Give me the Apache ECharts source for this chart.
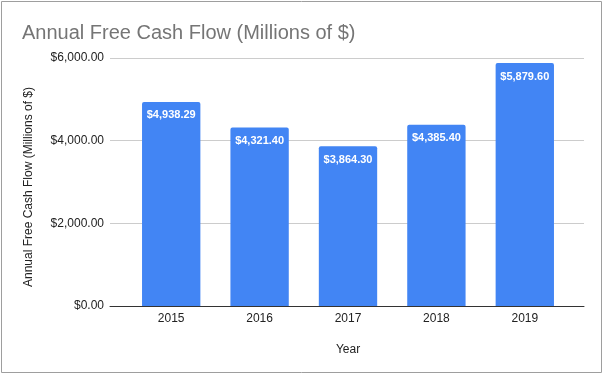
<!DOCTYPE html>
<html><head><meta charset="utf-8">
<script src="https://cdn.jsdelivr.net/npm/echarts@6/dist/echarts.min.js"></script>
<style>html,body{margin:0;padding:0;background:#fff}#c{width:604px;height:375px}</style>
</head><body><div id="c"></div>
<script>
const categories = ['2015','2016','2017','2018','2019'];
const values = [4938.29, 4321.40, 3864.30, 4385.40, 5879.60];
const yTicks = [0, 2000, 4000, 6000];
const FONT = 'Arial, Liberation Sans, sans-serif';
const fmt = v => '$' + v.toLocaleString('en-US', {minimumFractionDigits: 2, maximumFractionDigits: 2});
const chart = echarts.init(document.getElementById('c'));
chart.setOption({
  backgroundColor: '#fff',
  animation: false,
  graphic: [{type:'rect', shape:{x:1.5,y:1.5,width:600,height:371}, style:{fill:'none', stroke:'#9e9e9e', lineWidth:1}, silent:true}],
  title: {text: 'Annual Free Cash Flow (Millions of $)', left: 17, top: 18,
    textStyle: {fontFamily: FONT, fontSize: 20, fontWeight: 'normal', color: '#757575'}},
  grid: [
    {left: 110, right: 20, top: 58, bottom: 69},
    {left: 127, right: 35, top: 58, bottom: 69}
  ],
  xAxis: [
    {type: 'value', gridIndex: 0, min: 0, max: 1, axisLabel: {show: false}, axisTick: {show: false},
      splitLine: {show: false}, axisLine: {show: true, lineStyle: {color: '#333'}}},
    {type: 'category', gridIndex: 1, data: categories, name: 'Year', nameLocation: 'middle', nameGap: 38,
      nameTextStyle: {fontFamily: FONT, fontSize: 12, color: '#222'},
      axisLine: {show: false}, axisTick: {show: false},
      axisLabel: {fontFamily: FONT, fontSize: 12, color: '#222', margin: 7}}
  ],
  yAxis: [
    {type: 'value', gridIndex: 0, min: yTicks[0], max: yTicks[yTicks.length-1], interval: 2000,
      name: 'Annual Free Cash Flow (Millions of $)', nameLocation: 'middle', nameGap: 75,
      nameTextStyle: {fontFamily: FONT, fontSize: 12, color: '#222', padding: [0, 10, 0, 0]},
      axisLine: {show: false}, axisTick: {show: false},
      splitLine: {lineStyle: {color: '#cccccc'}},
      axisLabel: {fontFamily: FONT, fontSize: 12, color: '#222', margin: 6, formatter: fmt}},
    {type: 'value', gridIndex: 1, min: yTicks[0], max: yTicks[yTicks.length-1], interval: 2000, show: false,
      splitLine: {show: false}}
  ],
  series: [{type: 'bar', xAxisIndex: 1, yAxisIndex: 1, data: values, barCategoryGap: '34%',
    itemStyle: {color: '#4285F4', borderRadius: [2,2,0,0]},
    label: {show: true, position: 'insideTop', distance: 8, color: '#fff', fontWeight: 'bold',
      fontFamily: FONT, fontSize: 11, formatter: p => fmt(p.value)}}]
});
</script></body></html>
